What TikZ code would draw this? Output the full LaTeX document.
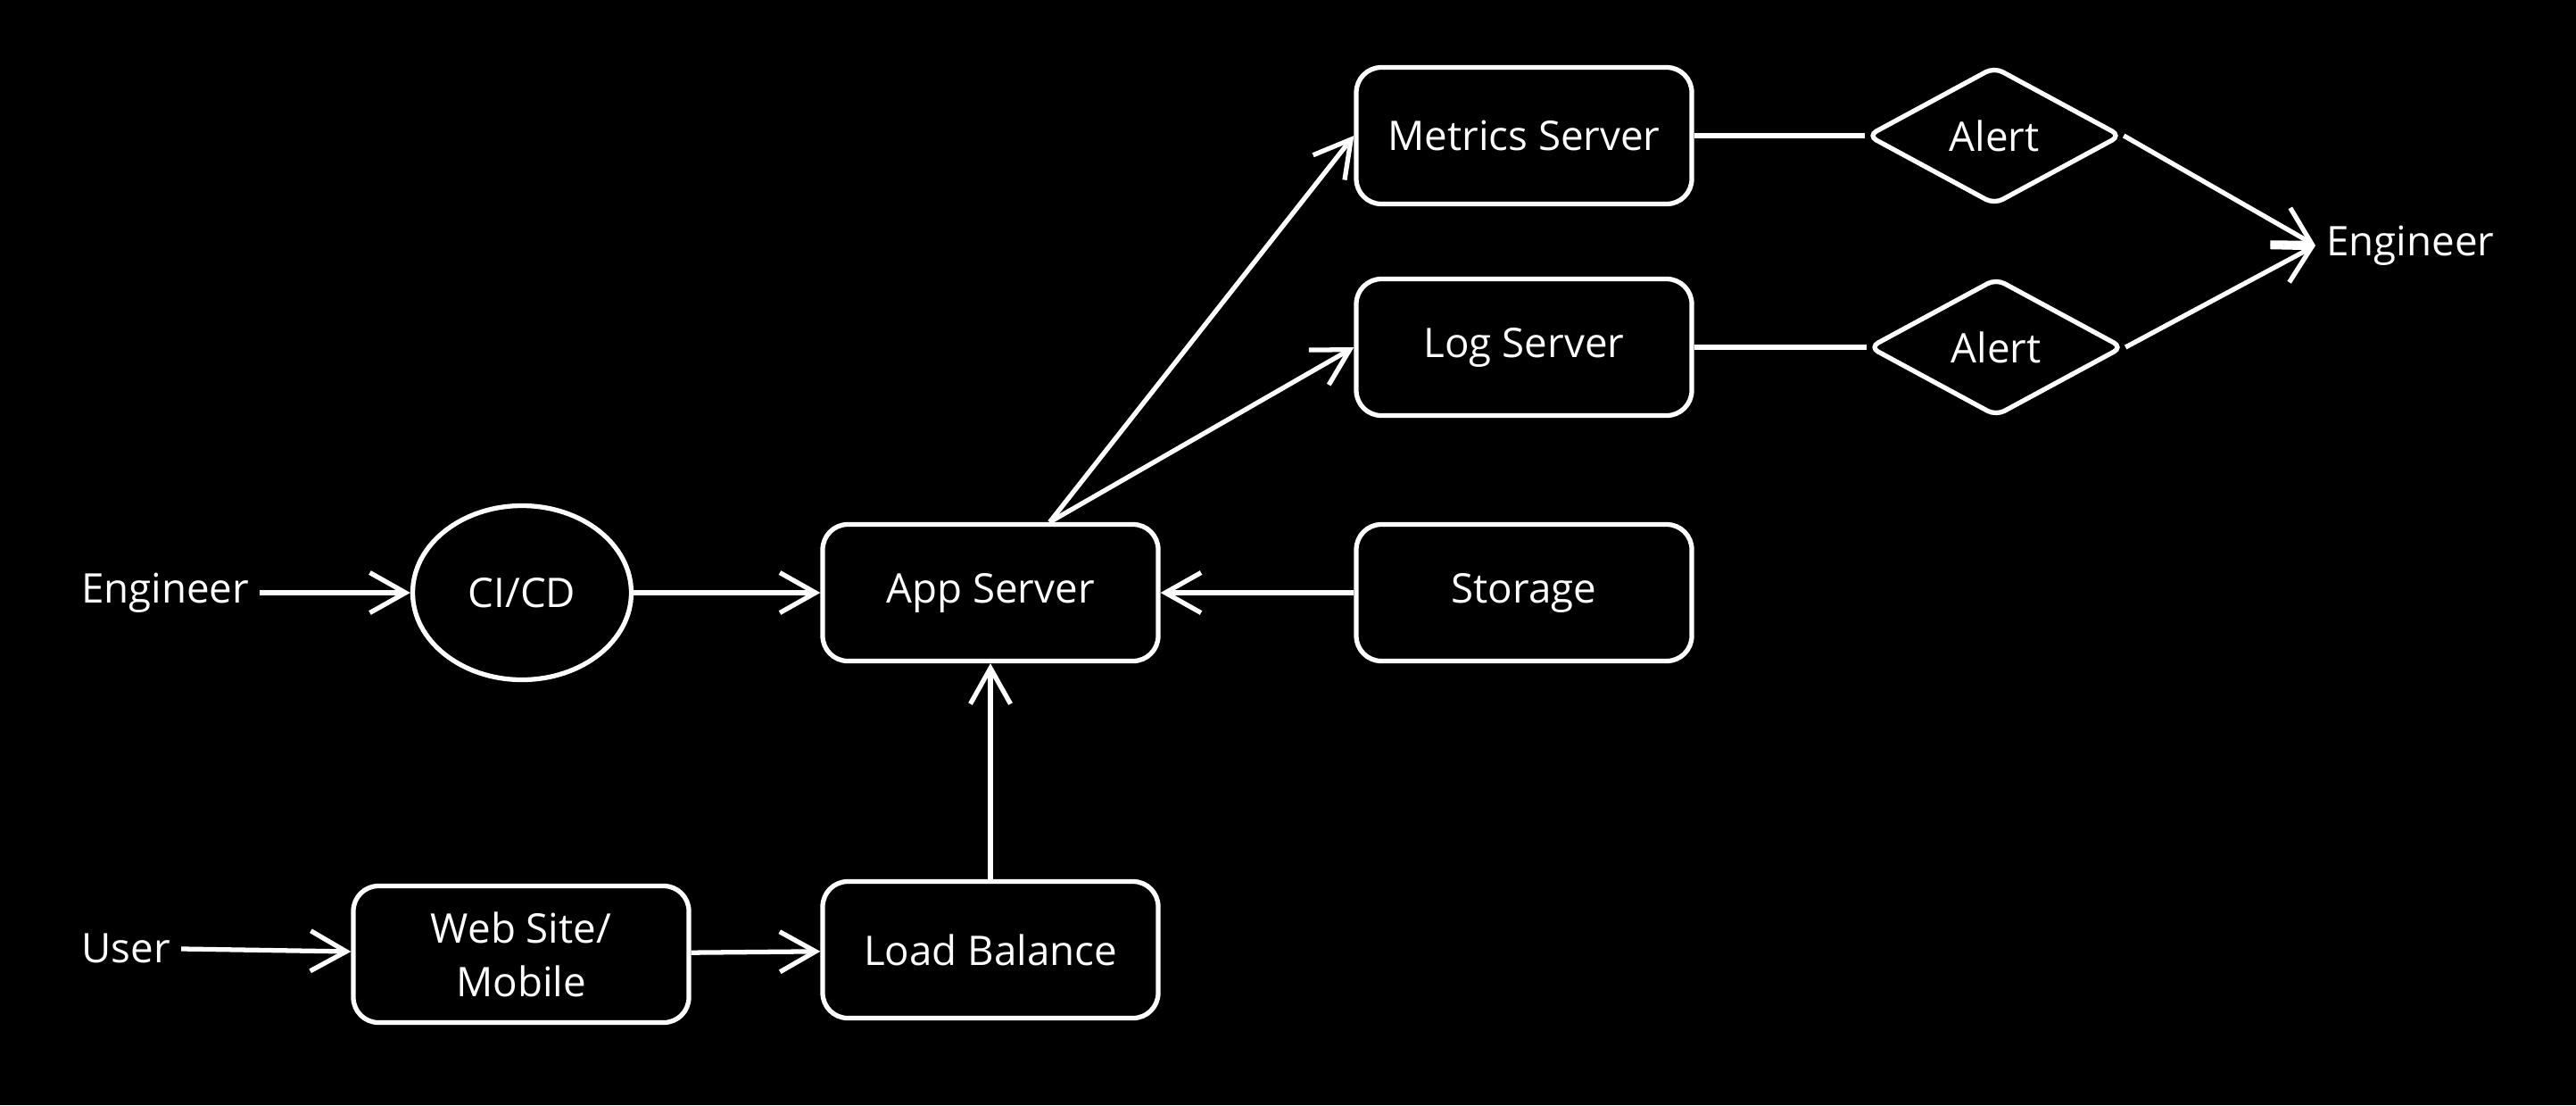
\documentclass[tikz,border=0pt]{standalone}
\usepackage{fontspec}
\setmainfont{Open Sans}
\usetikzlibrary{positioning,shapes.geometric,arrows.meta}

\begin{document}
\begin{tikzpicture}
		[node distance=5cm,on grid,color=white,
		 every node/.style={font=\fontsize{13}{17}\selectfont},
		 box/.style={draw,line width=1.5pt,rounded corners=8pt,minimum width=3.76cm,minimum height=1.53cm,align=center},
		 ring/.style={draw,line width=1.5pt,ellipse,minimum width=2.45cm,minimum height=1.95cm},
		 alertbox/.style={draw,line width=1.5pt,diamond,aspect=1.84,inner sep=1pt,rounded corners=3pt,minimum width=2.85cm,minimum height=1.55cm},
		 flow/.style={line width=1.5pt,-{Straight Barb[length=4mm,width=4.5mm,line width=1.5pt]}},
		 link/.style={line width=1.5pt}]
		\fill[black] (0,0) rectangle (28.87,-12.38);
		\useasboundingbox (0,0) rectangle (28.87,-12.38);
		\node[box] (app) at (11.10,-6.64) {App Server};
		\node[box] (store) [right=5.98 of app] {Storage};
		\node[box] (logsrv) [above=2.75 of store] {Log Server};
		\node[box] (metrics) [above=2.37 of logsrv] {Metrics Server};
		\node[box] (lb) [below=4.0 of app] {Load Balance};
		\node[box] (web) at (5.84,-10.69) {Web Site/\\Mobile};
		\node[ring] (cicd) [left=5.25 of app] {CI/CD};
		\node[alertbox] (alertm) [right=5.27 of metrics] {Alert};
		\node[alertbox] (alertl) [right=5.29 of logsrv] {Alert};
		\node (engL) [left=4.0 of cicd] {Engineer};
		\node (user) at (1.41,-10.62) {User};
		\node[anchor=west] (engR) at (25.95,-2.75) {Engineer};
		\path[flow]
		(engL) 	edge (cicd)
		(cicd) 	edge (app)
		(user) 	edge (web)
		(web) 	edge (lb)
		(lb) 	edge (app)
		(store) edge (app)
		(app.50) edge (metrics.west)
				 edge (logsrv.west)
		(alertm.east) edge (engR.west)
		(alertl.east) edge (engR.west);
		\path[link]
		(metrics) edge (alertm)
		(logsrv) edge (alertl);
\end{tikzpicture}
\end{document}
